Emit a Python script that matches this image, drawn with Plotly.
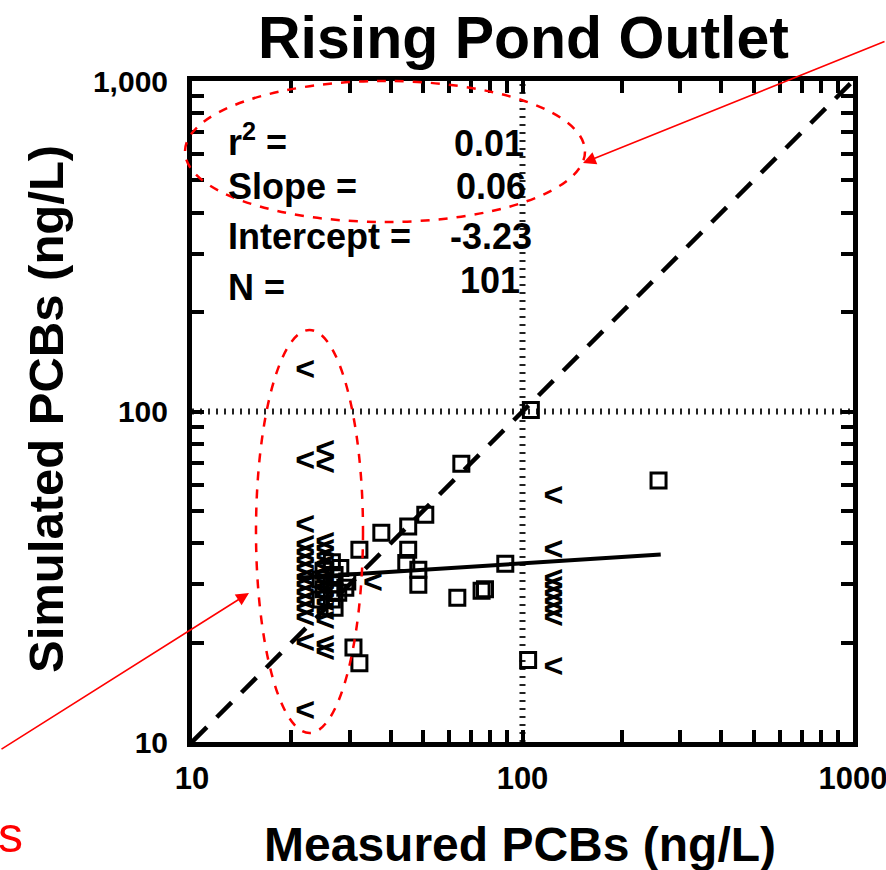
import plotly.graph_objects as go

# ---------------- data ----------------
# Open squares: measured vs simulated (ng/L)
sq_x = [106, 258, 65.3, 50.8, 45.1, 37.4, 32.1, 45.1, 44.5, 48.4, 48.4, 63.5, 75.2, 77.0,
        88.7, 30.8, 32.1, 104, 28.1, 29.5, 27.7, 29.1,
        26.5, 27.0, 26.5, 27.0, 26.5, 27.0, 25.0, 25.0, 24.5, 24.5]
sq_y = [101, 61.8, 69.5, 48.7, 44.9, 43.0, 38.2, 38.2, 34.8, 33.2, 29.9, 27.3, 28.7, 29.0,
        34.6, 19.3, 17.3, 17.7, 33.6, 30.6, 28.3, 29.3,
        35.0, 32.0, 30.0, 28.5, 27.0, 25.5, 33.0, 29.0, 31.0, 27.0]

# "<" symbols: non-detect measured values
lt_x = ([22.0] * 15) + ([25.3] * 15) + ([124] * 9) + [35.3]
lt_y = [132, 70.0, 44.9, 39, 37, 35, 33, 31, 29.5, 28, 26.5, 25, 23.5, 19.7, 12.3,
        75.7, 68.4, 40, 38, 36, 34, 32, 30.5, 29, 27.5, 26, 24.5, 23, 19.4, 18.5,
        54.9, 37.6, 30.9, 29.3, 27.7, 26.2, 24.8, 23.4, 16.7,
        29.9]

# regression line and 1:1 line
fit_x = [21, 262]
fit_y = [31.4, 36.9]
diag_x = [10, 1000]
diag_y = [10, 1000]

# reference lines at 100
ref_val = 100
axis_lo, axis_hi = 10, 1000

# stats
stat_labels = ["r<sup>2</sup> =", "Slope =", "Intercept =", "N ="]
stat_values = ["0.01", "0.06", "-3.23", "101"]

# tick labels
x_major = [10, 100, 1000]
x_major_labels = ["10", "100", "1000"]
y_major = [10, 100, 1000]
y_major_labels = ["10", "100", "1,000"]

# ---------------- layout helpers ----------------
W, H = 886, 870
L, R, T, B = 192, 853, 81, 742
PW, PH = R - L, B - T


def px(x):
    return (x - L) / PW


def py(y):
    return (B - y) / PH


def ticks(major, labels):
    vals, txt = [], []
    for i, m in enumerate(major):
        vals.append(m)
        txt.append(labels[i])
        if i < len(major) - 1:
            for k in range(2, 10):
                vals.append(m * k)
                txt.append("")
    return vals, txt


xtv, xtt = ticks(x_major, x_major_labels)
ytv, ytt = ticks(y_major, y_major_labels)

FONT = "Liberation Sans, Arial, Helvetica, sans-serif"

fig = go.Figure()

# dotted reference lines at 100
fig.add_trace(go.Scatter(x=[ref_val, ref_val], y=[axis_lo, axis_hi], mode="lines",
                         line=dict(color="#222", width=6, dash="2px,6px"),
                         hoverinfo="skip", showlegend=False))
fig.add_trace(go.Scatter(x=[axis_lo, axis_hi], y=[ref_val, ref_val], mode="lines",
                         line=dict(color="#222", width=6, dash="2px,6px"),
                         hoverinfo="skip", showlegend=False))

# 1:1 dashed line
fig.add_trace(go.Scatter(x=diag_x, y=diag_y, mode="lines",
                         line=dict(color="black", width=4.5, dash="21px,14px"),
                         showlegend=False))
# regression line
fig.add_trace(go.Scatter(x=fit_x, y=fit_y, mode="lines",
                         line=dict(color="black", width=4), showlegend=False))

# squares
fig.add_trace(go.Scatter(x=sq_x, y=sq_y, mode="markers",
                         marker=dict(symbol="square-open", size=15, color="black",
                                     line=dict(width=3, color="black")),
                         showlegend=False))
# "<" symbols
fig.add_trace(go.Scatter(x=lt_x, y=lt_y, mode="text", text=["<"] * len(lt_x),
                         textposition="middle center",
                         textfont=dict(family=FONT, size=34, color="black", weight="bold"),
                         showlegend=False))

axis_common = dict(type="log", range=[1, 3], ticks="inside", ticklen=12, tickwidth=4,
                   tickcolor="black", showline=True, linewidth=5, linecolor="black",
                   mirror="ticks", showgrid=False, zeroline=False,
                   ticklabeloverflow="allow")

fig.update_layout(
    width=W, height=H,
    margin=dict(l=L, r=W - R, t=T, b=H - B, autoexpand=False),
    paper_bgcolor="white", plot_bgcolor="white",
    xaxis=dict(**axis_common, tickmode="array", tickvals=xtv, ticktext=xtt,
               ticklabelstandoff=5,
               tickfont=dict(family=FONT, size=31, color="black", weight="bold")),
    yaxis=dict(**axis_common, tickmode="array", tickvals=ytv, ticktext=ytt,
               ticklabelstandoff=13,
               tickfont=dict(family=FONT, size=30, color="black", weight="bold")),
    showlegend=False,
)

ann = []
# title
ann.append(dict(text="<b>Rising Pond Outlet</b>", x=px(523), y=py(38), xref="paper", yref="paper",
                xanchor="center", yanchor="middle", showarrow=False,
                font=dict(family=FONT, size=59, color="black")))
# axis titles
ann.append(dict(text="<b>Measured PCBs (ng/L)</b>", x=px(520), y=py(844), xref="paper", yref="paper",
                xanchor="center", yanchor="middle", showarrow=False,
                font=dict(family=FONT, size=48, color="black")))
ann.append(dict(text="<b>Simulated PCBs (ng/L)</b>", x=px(46), y=py(409), xref="paper", yref="paper",
                xanchor="center", yanchor="middle", showarrow=False, textangle=-90,
                font=dict(family=FONT, size=49, color="black")))
# stats
label_y = [140, 186, 237, 287]
value_y = [143, 186, 237, 280]
value_x = [526, 528, 534, 522]
for i in range(len(stat_labels)):
    ann.append(dict(text="<b>" + stat_labels[i] + "</b>", x=px(226), y=py(label_y[i]),
                    xref="paper", yref="paper", xanchor="left", yanchor="middle",
                    showarrow=False, font=dict(family=FONT, size=36, color="black")))
    ann.append(dict(text="<b>" + stat_values[i] + "</b>", x=px(value_x[i]), y=py(value_y[i]),
                    xref="paper", yref="paper", xanchor="right", yanchor="middle",
                    showarrow=False, font=dict(family=FONT, size=36, color="black")))
# red arrows
ann.append(dict(text="", x=px(583), y=py(163), xref="paper", yref="paper", showarrow=True,
                ax=317, ay=-122, arrowhead=2, arrowsize=1.6, arrowwidth=1.6, arrowcolor="red"))
ann.append(dict(text="", x=px(249), y=py(593), xref="paper", yref="paper", showarrow=True,
                ax=-262, ay=157, arrowhead=2, arrowsize=1.6, arrowwidth=1.6, arrowcolor="red"))
# red partial text
ann.append(dict(text="s", x=px(-4), y=py(835), xref="paper", yref="paper", xanchor="left",
                yanchor="middle", showarrow=False, font=dict(family=FONT, size=50, color="red")))
fig.update_layout(annotations=ann)

# red dashed ellipses
fig.add_shape(type="circle", xref="paper", yref="paper",
              x0=px(185), x1=px(585), y0=py(222), y1=py(81),
              line=dict(color="red", width=2.5, dash="dash"))
fig.add_shape(type="circle", xref="paper", yref="paper",
              x0=px(256), x1=px(363), y0=py(733), y1=py(330),
              line=dict(color="red", width=2.5, dash="dash"))

fig.write_html("out.html")
